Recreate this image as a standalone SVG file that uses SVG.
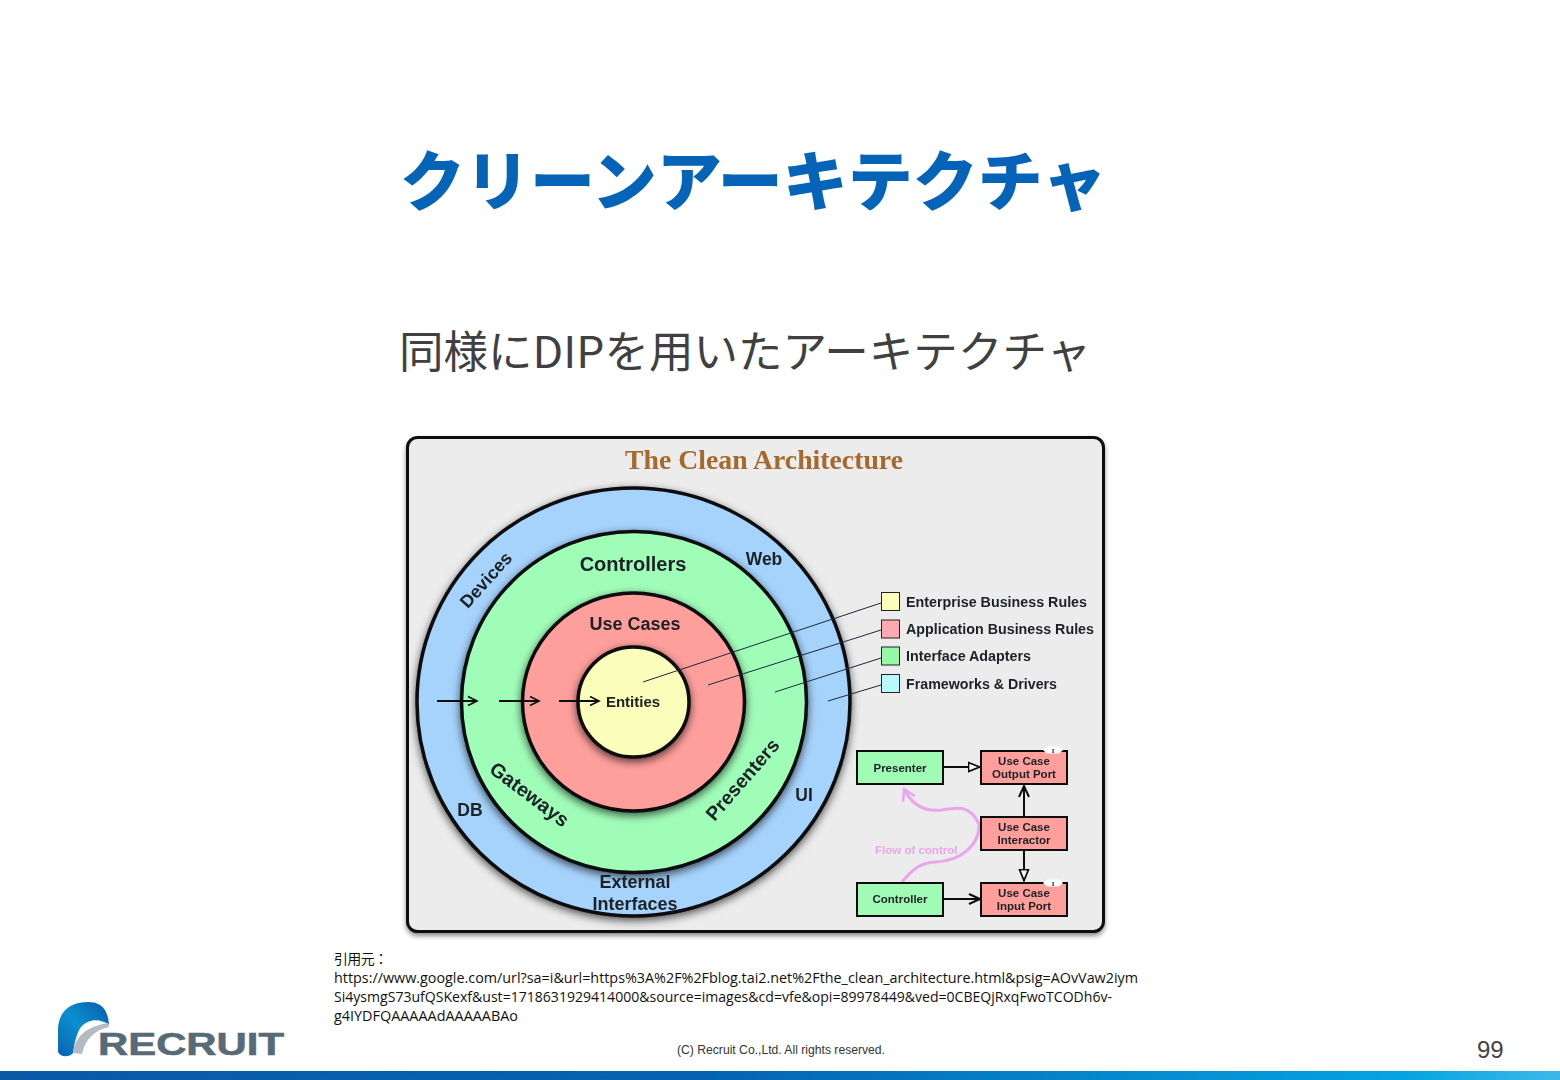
<svg xmlns="http://www.w3.org/2000/svg" width="1560" height="1080" viewBox="0 0 1560 1080">
<style>
.s{font-family:"Liberation Sans",Arial,sans-serif}
.b{font-family:"Liberation Sans",Arial,sans-serif;font-weight:700;fill:#1c2026}
.m{text-anchor:middle}
.jp{font-family:"Noto Sans CJK JP","Noto Sans",sans-serif}
.cite{font-family:"Open Sans","Noto Sans CJK JP",sans-serif;fill:#111}
.ring{stroke:#0a0a10;stroke-width:3.500}
.lead{stroke:#1a2a3a;stroke-width:1;fill:none}
.sw{stroke:#222;stroke-width:1}
.box{stroke:#0c0c0c;stroke-width:2}
.conn{stroke:#111;stroke-width:2;fill:none}
.lbl{font-size:11.500px}
.mark{font-family:"Liberation Serif",serif;font-size:7px;font-weight:700;text-anchor:middle;fill:#222}
</style>
<defs>
<filter id="sh" x="-12%" y="-12%" width="124%" height="124%"><feDropShadow dx="0" dy="3" stdDeviation="4" flood-color="#000" flood-opacity=".65"/></filter>
<filter id="pan" x="-3%" y="-3%" width="106%" height="106%"><feDropShadow dx="0" dy="3" stdDeviation="2.500" flood-color="#000" flood-opacity=".45"/></filter>
<filter id="bl" x="-2%" y="-2%" width="104%" height="104%"><feGaussianBlur stdDeviation=".35"/></filter>
<linearGradient id="bar" x1="0" x2="1" y1="0" y2="0"><stop offset="0" stop-color="#0a5aa6"/><stop offset=".45" stop-color="#0562b2"/><stop offset=".9" stop-color="#05a4e0"/><stop offset="1" stop-color="#3cb8e8"/></linearGradient>
<linearGradient id="arch" x1="0" x2="1" y1="1" y2="0"><stop offset="0" stop-color="#0a64b0"/><stop offset=".5" stop-color="#0a8fd0"/><stop offset="1" stop-color="#0a5aa8"/></linearGradient>
<marker id="open" markerWidth="13" markerHeight="12" refX="11" refY="6" orient="auto" markerUnits="userSpaceOnUse"><path d="M2 1.500L11 6L2 10.500" fill="none" stroke="#111" stroke-width="1.700"/></marker>
<marker id="openB" markerWidth="14" markerHeight="14" refX="12" refY="7" orient="auto" markerUnits="userSpaceOnUse"><path d="M1 2L12 7L1 12" fill="none" stroke="#111" stroke-width="2"/></marker>
<marker id="tri" markerWidth="14" markerHeight="12" refX="12.500" refY="6" orient="auto" markerUnits="userSpaceOnUse"><path d="M1 1.500L12 6L1 10.500Z" fill="#fff" stroke="#111" stroke-width="1.800"/></marker>
<marker id="flow" markerWidth="16" markerHeight="16" refX="2" refY="8" orient="auto" markerUnits="userSpaceOnUse"><path d="M13 1.500L2 8L13 14.500" fill="none" stroke="#eba4ee" stroke-width="2.500"/></marker>
</defs>
<rect width="1560" height="1080" fill="#fff"/>
<g id="title"><text class="jp" x="400" y="205" font-size="65" font-weight="900" fill="#0563b8" textLength="707" lengthAdjust="spacingAndGlyphs">クリーンアーキテクチャ</text></g>
<g id="subtitle"><text class="jp" x="399" y="368" font-size="44" fill="#404040" textLength="692" lengthAdjust="spacingAndGlyphs">同様にDIPを用いたアーキテクチャ</text></g>

<g id="figure" filter="url(#bl)">
<g id="panel"><rect x="407.500" y="437.500" width="696" height="494" rx="10" fill="#ececec" stroke="#0c0c0c" stroke-width="3" filter="url(#pan)"/>
<text x="764" y="469" class="m" font-family="Liberation Serif,serif" font-size="28" font-weight="700" fill="#a5692e" textLength="278" lengthAdjust="spacingAndGlyphs">The Clean Architecture</text></g>

<g id="ring-frameworks"><ellipse class="ring" cx="633.500" cy="702" rx="216.500" ry="214" fill="#a6d3fc" filter="url(#sh)"/></g>
<g id="ring-adapters"><ellipse class="ring" cx="634" cy="702" rx="172.500" ry="170.500" fill="#a0fdb8" filter="url(#sh)"/></g>
<g id="ring-usecases"><ellipse class="ring" cx="633.500" cy="702" rx="111" ry="109" fill="#fe9f9c" filter="url(#sh)"/></g>
<g id="ring-entities"><ellipse class="ring" cx="633.500" cy="702" rx="55.500" ry="55" fill="#fbfdba" filter="url(#sh)"/></g>

<g id="ring-labels" class="b">
<text class="b m" x="633" y="571" font-size="20">Controllers</text>
<text class="b m" x="635" y="630" font-size="18">Use Cases</text>
<text class="b m" x="633" y="707" font-size="15">Entities</text>
<text class="b m" x="764" y="565" font-size="17.500">Web</text>
<text class="b m" x="470" y="816" font-size="17.500">DB</text>
<text class="b m" x="804" y="801" font-size="17.500">UI</text>
<text class="b m" x="635" y="888" font-size="18">External</text>
<text class="b m" x="635" y="910" font-size="18">Interfaces</text>
<text class="b m" transform="translate(486,580) rotate(-48)" y="6" font-size="18">Devices</text>
<text class="b m" transform="translate(529,795) rotate(37)" y="6" font-size="20">Gateways</text>
<text class="b m" transform="translate(743,780) rotate(-49)" y="6" font-size="19.500">Presenters</text>
</g>

<g id="connectors">
<path class="conn" marker-end="url(#open)" d="M437 701H477"/>
<path class="conn" marker-end="url(#open)" d="M499 701H539"/>
<path class="conn" marker-end="url(#open)" d="M559 701H599"/>
<path class="lead" d="M643 682L881 603"/>
<path class="lead" d="M708 685L881 630"/>
<path class="lead" d="M775 692L881 658"/>
<path class="lead" d="M828 701L881 685"/>
<path d="M904 789C912 805 925 812 942 810C958 807 970 805 979 824C980 844 962 861 935 862C917 863 910 873 902 882" fill="none" stroke="#eba4ee" stroke-width="3" marker-start="url(#flow)"/>
<path class="conn" marker-end="url(#tri)" d="M943 767H980"/>
<path class="conn" marker-end="url(#openB)" d="M1024 816V786"/>
<path class="conn" marker-end="url(#tri)" d="M1024 851V881"/>
<path class="conn" marker-end="url(#openB)" d="M943 899H980"/>
</g>

<g id="legend-enterprise"><rect class="sw" x="881.500" y="592.500" width="18" height="18" fill="#fbfdba"/><text class="b" x="906" y="607" font-size="14.500" textLength="181" lengthAdjust="spacingAndGlyphs">Enterprise Business Rules</text></g>
<g id="legend-application"><rect class="sw" x="881.500" y="620" width="18" height="18" fill="#fea9b4"/><text class="b" x="906" y="634" font-size="14.500" textLength="188" lengthAdjust="spacingAndGlyphs">Application Business Rules</text></g>
<g id="legend-adapters"><rect class="sw" x="881.500" y="647" width="18" height="18" fill="#95f9a8"/><text class="b" x="906" y="661" font-size="14.500" textLength="125" lengthAdjust="spacingAndGlyphs">Interface Adapters</text></g>
<g id="legend-frameworks"><rect class="sw" x="881.500" y="674.500" width="18" height="18" fill="#b9f9fd"/><text class="b" x="906" y="689" font-size="14.500" textLength="151" lengthAdjust="spacingAndGlyphs">Frameworks &amp; Drivers</text></g>

<g id="presenter"><rect class="box" x="857" y="751" width="86" height="33" fill="#a0fbb4"/><text class="b m lbl" x="900" y="772">Presenter</text></g>
<g id="controller"><rect class="box" x="857" y="883" width="86" height="33" fill="#a0fbb4"/><text class="b m lbl" x="900" y="903">Controller</text></g>
<g id="output-port"><rect class="box" x="981" y="751" width="86" height="33" fill="#fe9f9c"/><path d="M1043 750L1047 746.500H1059L1063 750L1059 753.500H1047Z" fill="#fff"/><text class="mark" x="1053" y="752.500">I</text><text class="b m lbl" x="1024" y="765">Use Case</text><text class="b m lbl" x="1024" y="778">Output Port</text></g>
<g id="interactor"><rect class="box" x="981" y="817" width="86" height="33" fill="#fe9f9c"/><text class="b m lbl" x="1024" y="831">Use Case</text><text class="b m lbl" x="1024" y="844">Interactor</text></g>
<g id="input-port"><rect class="box" x="981" y="883" width="86" height="33" fill="#fe9f9c"/><path d="M1043 883L1047 879.500H1059L1063 883L1059 886.500H1047Z" fill="#fff"/><text class="mark" x="1053" y="885.500">I</text><text class="b m lbl" x="1024" y="897">Use Case</text><text class="b m lbl" x="1024" y="910">Input Port</text></g>
<g id="flow-label"><text class="s" x="875" y="854" font-size="11.500" font-weight="700" fill="#eba4ee">Flow of control</text></g>
</g>

<g id="citation">
<text class="cite" x="334" y="964" font-size="14" textLength="54" lengthAdjust="spacing">引用元：</text>
<text class="cite" x="334" y="983" font-size="15" textLength="804" lengthAdjust="spacingAndGlyphs">https://www.google.com/url?sa=i&amp;url=https%3A%2F%2Fblog.tai2.net%2Fthe_clean_architecture.html&amp;psig=AOvVaw2iym</text>
<text class="cite" x="334" y="1002" font-size="14" textLength="778" lengthAdjust="spacingAndGlyphs">Si4ysmgS73ufQSKexf&amp;ust=1718631929414000&amp;source=images&amp;cd=vfe&amp;opi=89978449&amp;ved=0CBEQjRxqFwoTCODh6v-</text>
<text class="cite" x="334" y="1021" font-size="15" textLength="184" lengthAdjust="spacingAndGlyphs">g4IYDFQAAAAAdAAAAABAo</text>
</g>

<g id="logo">
<path d="M58 1045V1030C58 1012 70 1002 88 1002C100 1002 108 1008 109 1025C100 1018 88 1019 81 1027C76 1034 74 1046 73 1053C69 1058 60 1057 58 1052Z" fill="url(#arch)"/>
<path d="M73 1053C75 1038 84 1027 108 1023L109 1027C94 1030 85 1040 82 1054Z" fill="#b4bcc2"/>
<text x="98" y="1055" class="s" font-size="31" font-weight="700" fill="#566a78" stroke="#566a78" stroke-width=".6" textLength="186" lengthAdjust="spacingAndGlyphs">RECRUIT</text>
</g>
<g id="footer">
<text class="s" x="677" y="1054" font-size="12" fill="#333" textLength="208" lengthAdjust="spacingAndGlyphs">(C) Recruit Co.,Ltd. All rights reserved.</text>
<text class="s" x="1477" y="1058" font-size="24" fill="#444">99</text>
<rect x="0" y="1071" width="1560" height="9" fill="url(#bar)"/>
</g>
</svg>
